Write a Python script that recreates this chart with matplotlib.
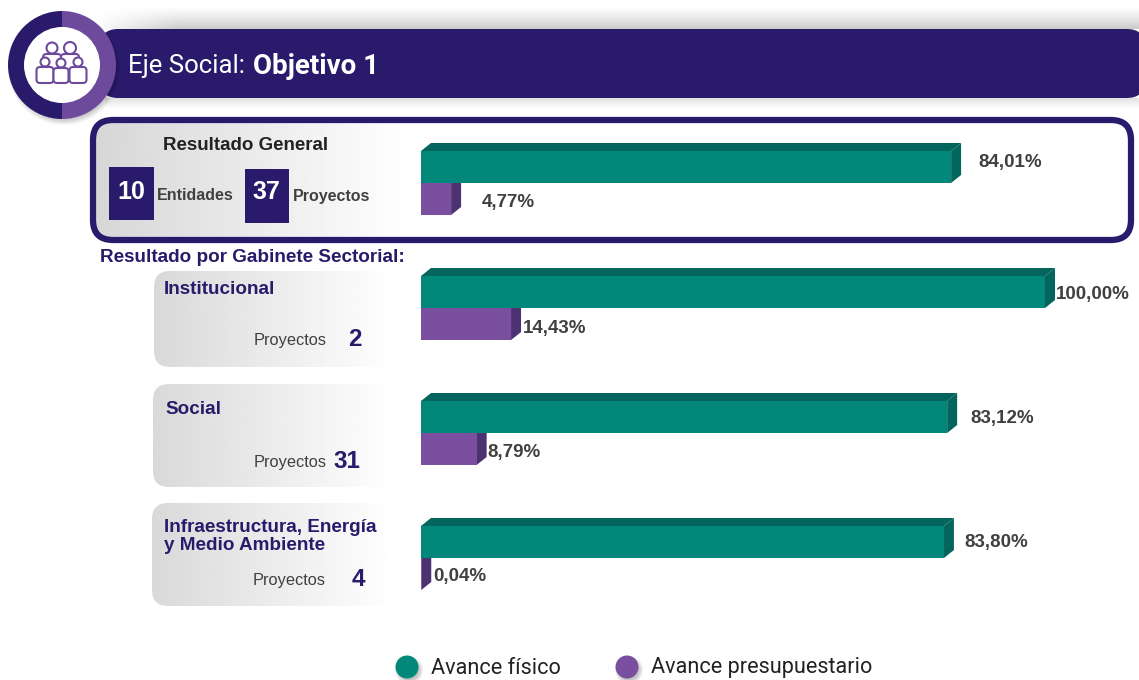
import numpy as np
import matplotlib
matplotlib.use("Agg")
import matplotlib.pyplot as plt
from matplotlib.patches import Circle, Wedge, FancyBboxPatch, Rectangle

# datos
grupos = ["General", "Institucional", "Social", "Infraestructura"]
avance_fisico = [84.01, 100.00, 83.12, 83.80]
avance_presup = [4.77, 14.43, 8.79, 0.04]
etiq_fisico = ["84,01%", "100,00%", "83,12%", "83,80%"]
etiq_presup = ["4,77%", "14,43%", "8,79%", "0,04%"]
proyectos = ["37", "2", "31", "4"]

# colores
morado_osc = "#2a1a6b"
morado = "#7a4f9f"
morado_lado = "#4d3272"
verde = "#02877b"
verde_osc = "#04655e"
gris = "#404040"
angosta = ["Roboto", "DejaVu Sans"]
arial = ["Liberation Sans", "DejaVu Sans"]

W, H = 1139, 680
fig = plt.figure(figsize=(W / 100, H / 100), dpi=100)
bg = fig.add_axes([0, 0, 1, 1])
bg.axis("off")


def degradado(x0, x1, y0, y1, gris_ini, clip=None, vertical=False, fin=1.0):
    g = np.linspace(gris_ini, fin, 200)
    img = g.reshape(-1, 1) if vertical else g.reshape(1, -1)
    im = bg.imshow(img, extent=[x0, x1, y1, y0], cmap="gray", vmin=0, vmax=1,
                   aspect="auto", zorder=1, interpolation="bilinear")
    if clip is not None:
        im.set_clip_path(clip)


def caja(x0, y0, x1, y1, r, **kw):
    return FancyBboxPatch((x0 + r, y0 + r), x1 - x0 - 2 * r, y1 - y0 - 2 * r,
                          boxstyle="round,pad=%f,rounding_size=%f" % (r, r), **kw)


# encabezado, sombra difusa arriba de la banda
sombra = np.zeros((60, 400, 4))
sombra[:, :, 3] = (np.linspace(0, 0.30, 60).reshape(-1, 1) ** 1.3
                   * np.clip(np.linspace(0, 12, 400), 0, 1).reshape(1, -1))
bg.imshow(sombra, extent=[90, W, 29, 5], aspect="auto", zorder=1, interpolation="bilinear")
degradado(105, W, 98, 108, 0.88, vertical=True)
banda = caja(100, 29, W + 6, 98, 18, fc=morado_osc, ec="none", zorder=2)
bg.add_patch(banda)
bg.text(128, 66, "Eje Social:", color="white", fontsize=18.5, va="center",
        family=angosta, zorder=5)
bg.text(253, 66, "Objetivo 1", color="white", fontsize=20, va="center",
        weight="bold", family=angosta, zorder=5)

# circulo con icono
for i in range(8):
    bg.add_patch(Circle((64, 69), 56 - i * 1.0, fc="black", alpha=0.035, ec="none", zorder=3))
bg.add_patch(Wedge((62, 65), 54, 90, 270, fc=morado_osc, ec="none", zorder=4))
bg.add_patch(Wedge((62, 65), 54, -90, 90, fc="#6d4a9c", ec="none", zorder=4))
bg.add_patch(Circle((62, 65), 38, fc="white", ec="none", zorder=5))
for cx, cy, r, ancho, y0, y1, z in [(52, 48, 5.5, 18, 54, 72, 6), (70, 48, 6, 18, 54, 72, 6),
                                    (45, 62, 4.5, 17, 67, 83, 8), (61, 63, 4.5, 15, 68, 83, 8),
                                    (78, 62, 4.5, 17, 67, 83, 8)]:
    bg.add_patch(caja(cx - ancho / 2, y0, cx + ancho / 2, y1, 3.5, fc="white",
                      ec="#6d4a9c", lw=1.5, zorder=z))
    bg.add_patch(Circle((cx, cy), r, fc="white", ec="#6d4a9c", lw=1.5, zorder=z + 1))

# recuadro resultado general
borde = caja(93, 120, 1131, 240, 20, fc="white", ec="none", zorder=1)
bg.add_patch(borde)
degradado(93, 410, 120, 240, 0.84, clip=borde)
bg.add_patch(caja(93, 120, 1131, 240, 20, fc="none", ec=morado_osc, lw=4.5, zorder=3))
bg.text(246, 145, "Resultado General", fontsize=13.5, weight="bold", color="#222222",
        ha="center", va="center", family=arial, zorder=5)
for x0, x1, y0, y1, num, tx, nombre, xn in [(109, 154, 167, 220, "10", 131, "Entidades", 157),
                                            (245, 289, 169, 223, proyectos[0], 266, "Proyectos", 293)]:
    bg.add_patch(Rectangle((x0, y0), x1 - x0, y1 - y0, fc=morado_osc, ec="none", zorder=4))
    bg.text(tx, 192, num, color="white", fontsize=18, weight="bold", ha="center", va="center",
            family=arial, zorder=5)
    bg.text(xn, 196, nombre, color=gris, fontsize=11.5, weight="bold", va="center",
            family=arial, zorder=5)

bg.text(100, 257, "Resultado por Gabinete Sectorial:", color=morado_osc, fontsize=13.6,
        weight="bold", va="center", family=arial, zorder=5)

# paneles de gabinete
paneles = [(154, 271, 367), (153, 384, 487), (152, 503, 606)]
for (x0, y0, y1) in paneles:
    p = caja(x0, y0, 396, y1, 16, fc="white", ec="none", zorder=1)
    bg.add_patch(p)
    degradado(x0, 396, y0, y1, 0.85, clip=p)

bg.text(164, 289, "Institucional", color=morado_osc, fontsize=13.6, weight="bold", va="center",
        family=arial, zorder=5)
bg.text(165, 409, "Social", color=morado_osc, fontsize=13.6, weight="bold", va="center",
        family=arial, zorder=5)
bg.text(164, 527, "Infraestructura, Energía", color=morado_osc, fontsize=13.6, weight="bold",
        va="center", family=arial, zorder=5)
bg.text(164, 546, "y Medio Ambiente", color=morado_osc, fontsize=13.6, weight="bold", va="center",
        family=arial, zorder=5)
for yp, xp, xnum, num in [(340, 254, 355, proyectos[1]), (462, 254, 347, proyectos[2]),
                          (580, 253, 358, proyectos[3])]:
    bg.text(xp, yp, "Proyectos", color=gris, fontsize=11.8, va="center", family=arial, zorder=5)
    bg.text(xnum, yp, num, color=morado_osc, fontsize=17.5, weight="bold", ha="center",
            va="center", family=arial, zorder=5)

bg.set_xlim(0, W)
bg.set_ylim(H, 0)

# barras: un eje por grupo, con la escala px/% que se mide en cada una
escala = [6.31, 6.24, 6.33, 6.24]
y_sup = [151, 276, 401, 526]
x_ini = 421
prof_x, prof_y = 10, 8
alto_barra = 32
etiq_pos_f = [(978, 162), (1056, 295), (970, 419), (964, 542)]
etiq_pos_p = [(482, 203), (523, 328), (487, 452), (433, 577)]

for i, g in enumerate(grupos):
    top = y_sup[i]
    ax = fig.add_axes([x_ini / W, 1 - (top + 2 * alto_barra) / H, (W - x_ini) / W,
                       2 * alto_barra / H])
    ax.patch.set_alpha(0)
    ax.axis("off")
    ax.set_xlim(0, (W - x_ini) / escala[i])
    ax.set_ylim(2, 0)
    dx = prof_x / escala[i]
    dy = prof_y / alto_barra
    # presupuesto primero, el avance fisico queda por delante
    for fila, v, c, lado in [(1, avance_presup[i], morado, morado_lado),
                             (0, avance_fisico[i], verde, verde_osc)]:
        ax.fill([v, v + dx, v + dx, v], [fila + 1, fila + 1 - dy, fila - dy, fila],
                color=lado, lw=0, clip_on=False)
        ax.fill([0, dx, v + dx, v], [fila, fila - dy, fila - dy, fila],
                color=lado, lw=0, clip_on=False)
        ax.barh(fila + 0.5, v, height=1, color=c, lw=0)
    bg.text(etiq_pos_f[i][0], etiq_pos_f[i][1], etiq_fisico[i], color=gris, fontsize=13.5,
            weight="bold", va="center", family=arial, zorder=5)
    bg.text(etiq_pos_p[i][0], etiq_pos_p[i][1], etiq_presup[i], color=gris, fontsize=13.5,
            weight="bold", va="center", family=arial, zorder=5)

# leyenda
for cx, c, tx, nombre in [(407, verde, 431, "Avance físico"), (627, morado, 651, "Avance presupuestario")]:
    for k in range(5):
        bg.add_patch(Circle((cx + 2, 670), 14 - k, fc="black", alpha=0.05, ec="none", zorder=3))
    bg.add_patch(Circle((cx, 667), 11.5, fc=c, ec="none", zorder=4))
    bg.text(tx, 668, nombre, color="#222222", fontsize=15.6, va="center", family=angosta, zorder=5)

fig.savefig("out.png", dpi=100)
